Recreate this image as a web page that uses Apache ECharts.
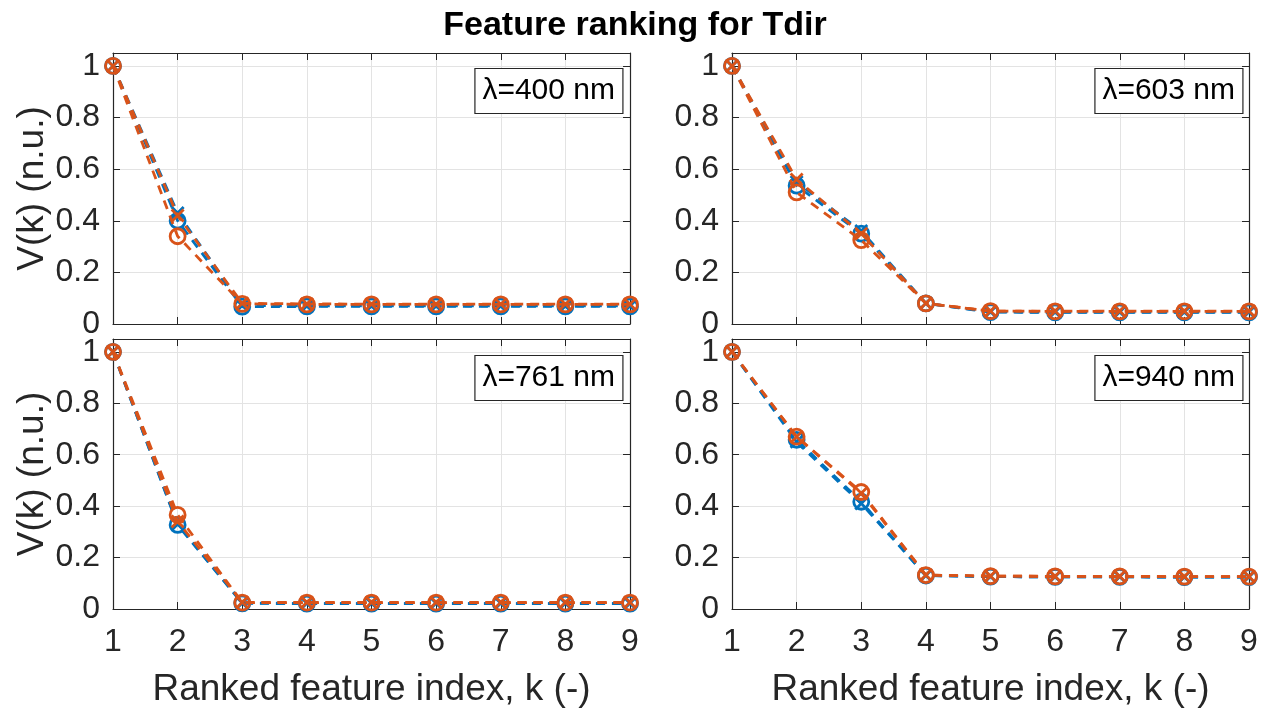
<!DOCTYPE html>
<html><head><meta charset="utf-8">
<script src="https://cdn.jsdelivr.net/npm/echarts@6/dist/echarts.min.js"></script>
<style>html,body{margin:0;padding:0;background:#fff}#c{width:1270px;height:713px}</style>
</head><body><div id="c"></div>
<script>
const kIndex = [1,2,3,4,5,6,7,8,9];
const panelLabels = ['λ=400 nm','λ=603 nm','λ=761 nm','λ=940 nm'];
const yTicks = [0,0.2,0.4,0.6,0.8,1];
// per panel: blue-o, blue-x, orange-o, orange-x
const p400_blueO  = [1,0.40,0.067,0.068,0.068,0.068,0.068,0.068,0.068];
const p400_blueX  = [1,0.43,0.072,0.07,0.07,0.07,0.07,0.07,0.07];
const p400_orangeO= [1,0.34,0.078,0.076,0.076,0.076,0.076,0.076,0.076];
const p400_orangeX= [1,0.42,0.08,0.078,0.077,0.077,0.077,0.077,0.077];
const p603_blueO  = [1,0.536,0.35,0.08,0.046,0.045,0.045,0.045,0.045];
const p603_blueX  = [1,0.55,0.36,0.08,0.047,0.046,0.046,0.046,0.046];
const p603_orangeO= [1,0.51,0.325,0.08,0.05,0.049,0.049,0.049,0.049];
const p603_orangeX= [1,0.56,0.35,0.08,0.05,0.05,0.05,0.05,0.05];
const p761_blueO  = [1,0.327,0.022,0.021,0.021,0.021,0.021,0.021,0.021];
const p761_blueX  = [1,0.33,0.023,0.022,0.022,0.022,0.022,0.022,0.022];
const p761_orangeO= [1,0.366,0.025,0.025,0.025,0.025,0.025,0.025,0.025];
const p761_orangeX= [1,0.34,0.026,0.026,0.026,0.026,0.026,0.026,0.026];
const p940_blueO  = [1,0.658,0.417,0.13,0.126,0.125,0.125,0.124,0.124];
const p940_blueX  = [1,0.65,0.41,0.13,0.126,0.125,0.125,0.124,0.124];
const p940_orangeO= [1,0.67,0.455,0.132,0.128,0.127,0.127,0.126,0.126];
const p940_orangeX= [1,0.67,0.45,0.132,0.128,0.127,0.127,0.126,0.126];

const panels = [
  [p400_blueO,p400_blueX,p400_orangeO,p400_orangeX],
  [p603_blueO,p603_blueX,p603_orangeO,p603_orangeX],
  [p761_blueO,p761_blueX,p761_orangeO,p761_orangeX],
  [p940_blueO,p940_blueX,p940_orangeO,p940_orangeX]
];
const BLUE='#0072BD', ORANGE='#D95319', AX='#262626', GRIDC='#e3e3e3';
const FONT='Liberation Sans';
const grids = [
  {left:113, top:53, width:517, height:271},
  {left:732, top:53, width:517, height:271},
  {left:113, top:339, width:517, height:270},
  {left:732, top:339, width:517, height:270}
];
const xAxis=[], yAxis=[], series=[], title=[];
title.push({text:'Feature ranking for Tdir', left:'center', top:4,
  textStyle:{fontFamily:FONT,fontWeight:'bold',fontSize:34,color:'#000'}});
const boxes=[{right:647,top:68},{right:27,top:68},{right:647,top:355},{right:27,top:355}];
grids.forEach((g,i)=>{
  const bottomRow = i>=2, leftCol = (i%2===0);
  xAxis.push({gridIndex:i,type:'value',min:1,max:9,interval:1,position:'bottom',
    axisLine:{show:true,onZero:false,lineStyle:{color:AX,width:1.2}},
    axisTick:{show:true,inside:true,length:7,lineStyle:{color:AX}},
    axisLabel:{show:bottomRow,fontFamily:FONT,fontSize:32,color:AX,margin:17},
    splitLine:{show:true,lineStyle:{color:GRIDC,width:1}},
    name:bottomRow?'Ranked feature index, k (-)':'',nameLocation:'middle',nameGap:62,
    nameTextStyle:{fontFamily:FONT,fontSize:37,color:AX}});
  xAxis.push({gridIndex:i,type:'value',min:1,max:9,interval:1,position:'top',
    axisLine:{show:true,onZero:false,lineStyle:{color:AX,width:1.2}},
    axisTick:{show:true,inside:true,length:7,lineStyle:{color:AX}},
    axisLabel:{show:false},splitLine:{show:false}});
  yAxis.push({gridIndex:i,type:'value',min:0,max:1.05,interval:0.2,position:'left',
    axisLine:{show:true,onZero:false,lineStyle:{color:AX,width:1.2}},
    axisTick:{show:true,inside:true,length:7,lineStyle:{color:AX},
      customValues:yTicks},
    axisLabel:{show:true,fontFamily:FONT,fontSize:32,color:AX,margin:13,
      customValues:yTicks, formatter:v=>String(Math.round(v*10)/10)},
    splitLine:{show:true,lineStyle:{color:GRIDC,width:1}},
    name:leftCol?'V(k) (n.u.)':'',nameLocation:'middle',nameGap:62,
    nameTextStyle:{fontFamily:FONT,fontSize:37,color:AX}});
  yAxis.push({gridIndex:i,type:'value',min:0,max:1.05,interval:0.2,position:'right',
    axisLine:{show:true,onZero:false,lineStyle:{color:AX,width:1.2}},
    axisTick:{show:true,inside:true,length:7,lineStyle:{color:AX},customValues:yTicks},
    axisLabel:{show:false},splitLine:{show:false}});
  const cols=[BLUE,BLUE,ORANGE,ORANGE];
  const syms=['circle','path://M0,0L10,10M10,0L0,10','circle','path://M0,0L10,10M10,0L0,10'];
  panels[i].forEach((arr,j)=>{
    series.push({type:'line',xAxisIndex:2*i,yAxisIndex:2*i,
      data:kIndex.map((k,n)=>[k,arr[n]]),
      symbol:syms[j],symbolSize:j%2===0?15:12,showAllSymbol:true,clip:false,
      lineStyle:{color:cols[j],width:2.8,type:[9,7]},
      itemStyle:{color:'rgba(0,0,0,0)',borderColor:cols[j],borderWidth:2.8},
      emphasis:{disabled:true},z:2+j,animation:false});
  });
  title.push({text:panelLabels[i],right:boxes[i].right,top:boxes[i].top,
    borderColor:'#262626',borderWidth:1.2,backgroundColor:'#fff',
    padding:[8,8,8,8],
    textStyle:{fontFamily:FONT,fontSize:30,fontWeight:'normal',color:'#000'}});
});
const chart = echarts.init(document.getElementById('c'),null,{renderer:'canvas'});
chart.setOption({animation:false,backgroundColor:'#fff',title,grid:grids,xAxis,yAxis,series});
</script></body></html>
